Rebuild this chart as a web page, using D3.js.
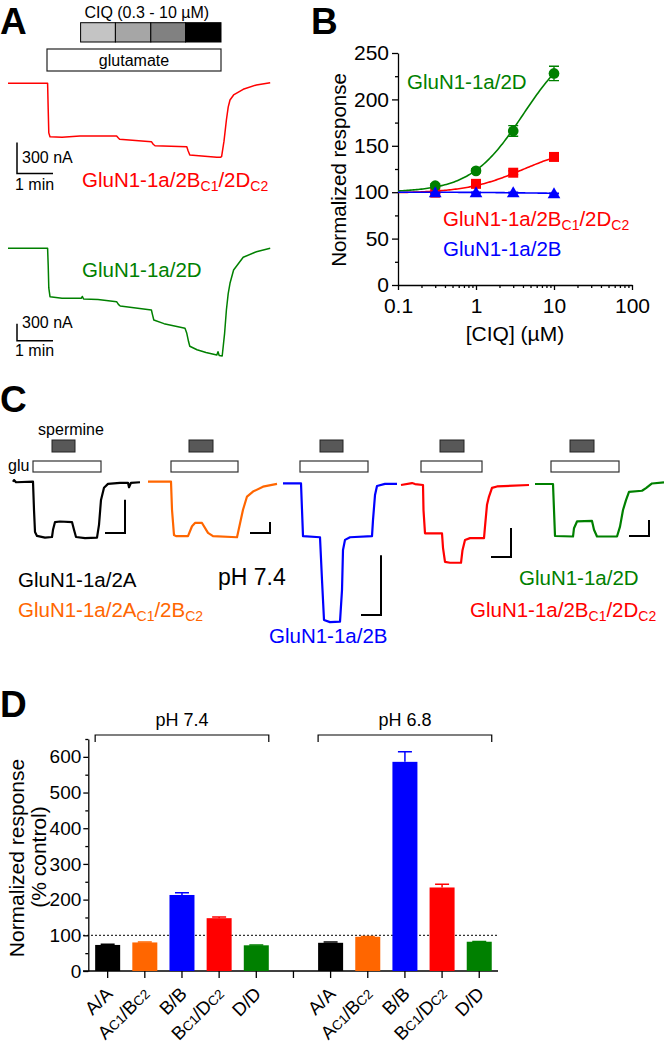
<!DOCTYPE html>
<html>
<head>
<meta charset="utf-8">
<script src="https://cdn.jsdelivr.net/npm/d3@7"></script>
<style>
  body { margin: 0; background: #fff; }
  svg { display: block; font-family: "Liberation Sans", Arial, sans-serif; }
</style>
</head>
<body>
<div id="chart"></div>
<script>
// multi panel figure: CIQ potentiation (A, B), spermine traces (C), spermine summary (D)

///////////////
//   data    //
///////////////

// panel A - two-electrode voltage clamp traces, time in s, current in nA
const ciqEdges = [121, 179, 238, 296, 355];          // 0.3, 1, 3, 10 uM steps
const gluA = [65, 355];
const redT = [0, 66, 67, 68, 70, 90, 120, 181, 184, 186, 239, 242, 245, 298, 300, 303, 348, 354, 356, 360, 364, 367, 370, 376, 392, 414, 437];
const redI = [0, 0, -250, -480, -517, -523, -510, -510, -530, -542, -565, -590, -604, -614, -650, -694, -716, -716, -710, -560, -355, -230, -162, -113, -58, -16, 6];
const greenT = [0, 66, 67, 68, 70, 90, 122, 124, 126, 150, 181, 184, 187, 239, 241, 243, 260, 295, 298, 301, 303, 315, 330, 348, 350, 352, 357, 361, 364, 367, 370, 376, 392, 414, 437];
const greenI = [0, 0, -300, -700, -854, -880, -882, -850, -895, -905, -942, -990, -1018, -1089, -1180, -1265, -1330, -1412, -1500, -1650, -1729, -1790, -1840, -1883, -1824, -1890, -1900, -1500, -1089, -800, -618, -383, -159, -60, 0];

// panel B - concentration response
const ciqConc = [0.3, 1, 3, 10];
const resp2D = [107, 123, 166, 228];
const err2D = [2, 2, 5.7, 7.7];
const resp2BD = [99.5, 109, 121, 138];
const err2BD = [1, 1.5, 2, 2.5];
const resp2B = [99.5, 99.5, 99.5, 98.6];
const err2B = [0.5, 0.5, 0.5, 0.5];
// Hill fits: [bottom, span, EC50, nH]
const fit2D = [100, 167, 4, 1.3];
const fit2BD = [99, 51, 4, 1.2];
const fit2B = [100, -1.5, 4, 1.2];

// panel C - spermine traces, time in s, current as fraction of glutamate response
const cT = [
  [0, 1, 3, 20, 21, 22, 24, 32, 39, 40, 42, 47, 59, 61, 63, 72, 84, 86, 88, 91, 95, 107, 115, 116, 118, 127],
  [0, 23, 24, 26, 28, 40, 44, 47, 54, 60, 65, 89, 90, 95, 99, 105, 115, 129],
  [0, 18, 20, 37, 39, 41, 47, 57, 59, 60, 62, 67, 89, 90, 92, 94, 102, 114],
  [0, 11, 14, 22, 22.5, 24, 41, 42, 44, 49, 60, 61.5, 64, 69, 83, 84, 86, 88, 91, 96, 128],
  [0, 18, 19, 20, 38, 39, 42, 57, 59, 62, 82, 85, 88, 91, 94, 107, 111, 117, 129]
];
const cI = [
  [0, 0.03, -0.01, 0, -0.51, -0.91, -0.98, -1.01, -1.0, -0.87, -0.73, -0.72, -0.73, -0.87, -1.0, -1.02, -1.01, -0.78, -0.33, -0.11, -0.04, -0.02, -0.02, -0.1, -0.02, -0.01],
  [0, 0, -0.51, -0.97, -0.99, -0.99, -0.81, -0.75, -0.75, -0.93, -0.99, -1.01, -0.93, -0.51, -0.27, -0.18, -0.09, -0.04],
  [0, 0, -0.99, -1.01, -1.81, -2.56, -2.6, -2.59, -2.0, -1.25, -1.06, -1.01, -0.99, -0.69, -0.22, -0.05, -0.01, -0.01],
  [0, 0.04, 0.02, 0, -0.52, -1.0, -1.0, -1.3, -1.59, -1.61, -1.61, -1.35, -1.14, -1.1, -1.1, -0.86, -0.41, -0.24, -0.06, -0.03, 0],
  [0, 0, -0.5, -1.0, -1.01, -0.85, -0.72, -0.71, -0.88, -1.01, -1.01, -0.82, -0.5, -0.31, -0.15, -0.13, -0.08, 0.01, 0.03]
];
const cGlu = [[20, 88], [23, 90], [17, 85], [20, 81], [16, 84]];
const cSpermine = [[39, 62], [41, 65], [37, 60], [39, 63], [35, 59]];
const cBarTime = 20;                              // s
const cBarAmp = [0.6, 0.2, 1.12, 0.6, 0.31];      // fraction of glutamate response

// panel D - spermine potentiation (% control)
const dCats = ["A/A", "A_{C1}/B_{C2}", "B/B", "B_{C1}/D_{C2}", "D/D"];
const dGroups = ["pH 7.4", "pH 6.8"];
const resp74 = [73, 80, 213, 148, 72];
const err74 = [2, 1, 6, 3, 1];
const resp68 = [79, 96, 586, 234, 82];
const err68 = [2, 1, 28, 9, 1];

///////////////
//  layout   //
///////////////

const width = 664, height = 1050;
const colBlack = "#000", colOrange = "#ff6600", colBlue = "#0000ff", colRed = "#ff0000", colGreen = "#008000";
const cColors = [colBlack, colOrange, colBlue, colRed, colGreen];

const svg = d3.select("#chart").append("svg")
  .attr("width", width).attr("height", height);
svg.append("rect").attr("width", width).attr("height", height).attr("fill", "#fff");

// text with _{sub} parts; shift = baseline drop of subscript
function richText(sel, str, subSize, shift) {
  var back = 0;
  str.split(/(_\{[^}]*\})/).filter(function(s) { return s.length; }).forEach(function(p) {
    if (p.indexOf("_{") === 0) {
      sel.append("tspan").attr("font-size", subSize).attr("dy", shift).text(p.slice(2, -1));
      back = -shift;
    } else {
      sel.append("tspan").attr("dy", back).text(p);
      back = 0;
    }
  });
  return sel;
}

function panelLabel(txt, x, y) {
  svg.append("text").attr("x", x).attr("y", y)
    .attr("font-size", 37).attr("font-weight", "bold").text(txt);
}

const line = d3.line();

///////////////
//  panel A  //
///////////////

panelLabel("A", 0, 34);

const xA = d3.scaleLinear().domain([0, 437]).range([8, 270.2]);
const yRed = d3.scaleLinear().domain([0, -300]).range([83.3, 114.3]);
const yGreen = d3.scaleLinear().domain([0, -300]).range([248.3, 265.3]);

svg.append("text").attr("x", xA((ciqEdges[0] + ciqEdges[4]) / 2) - 4).attr("y", 17.5)
  .attr("font-size", 16).attr("text-anchor", "middle").text("CIQ (0.3 - 10 \u00b5M)");

const ciqShades = ["#c4c4c4", "#a6a6a6", "#818181", "#000000"];
for (let i = 0; i < 4; i++) {
  svg.append("rect")
    .attr("x", xA(ciqEdges[i])).attr("y", 22.7)
    .attr("width", xA(ciqEdges[i + 1]) - xA(ciqEdges[i])).attr("height", 19.3)
    .attr("fill", ciqShades[i]).attr("stroke", "#000").attr("stroke-width", 1);
}
svg.append("rect")
  .attr("x", xA(gluA[0])).attr("y", 49)
  .attr("width", xA(gluA[1]) - xA(gluA[0])).attr("height", 22)
  .attr("fill", "#fff").attr("stroke", "#222").attr("stroke-width", 1.2);
svg.append("text").attr("x", (xA(gluA[0]) + xA(gluA[1])) / 2).attr("y", 65.5)
  .attr("font-size", 16).attr("text-anchor", "middle").text("glutamate");

function drawTraceA(T, I, yS, color) {
  svg.append("path")
    .attr("d", line(T.map(function(t, i) { return [xA(t), yS(I[i])]; })))
    .attr("fill", "none").attr("stroke", color).attr("stroke-width", 1.5)
    .attr("stroke-linejoin", "round");
}
drawTraceA(redT, redI, yRed, colRed);
drawTraceA(greenT, greenI, yGreen, colGreen);

function scaleBarA(yS, cornerY, lab1y, lab2y) {
  var x0 = 17;
  var dy = yS(-300) - yS(0);
  var dx = xA(60) - xA(0);
  svg.append("path")
    .attr("d", "M" + x0 + "," + (cornerY - dy) + "V" + cornerY + "H" + (x0 + dx))
    .attr("fill", "none").attr("stroke", "#000").attr("stroke-width", 1.5);
  svg.append("text").attr("x", 22).attr("y", lab1y).attr("font-size", 16).text("300 nA");
  svg.append("text").attr("x", 15).attr("y", lab2y).attr("font-size", 16).text("1 min");
}
scaleBarA(yRed, 173.5, 163, 190);
scaleBarA(yGreen, 340.7, 328, 356);

richText(svg.append("text").attr("x", 82).attr("y", 187).attr("font-size", 20.5).attr("fill", colRed),
  "GluN1-1a/2B_{C1}/2D_{C2}", 14, 4);
richText(svg.append("text").attr("x", 82).attr("y", 277).attr("font-size", 20.5).attr("fill", colGreen),
  "GluN1-1a/2D", 14, 4);

///////////////
//  panel B  //
///////////////

panelLabel("B", 311, 34);

const xB = d3.scaleLog().domain([0.1, 100]).range([398, 632]);
const yB = d3.scaleLinear().domain([0, 250]).range([285, 53]);

const gB = svg.append("g");
gB.append("g").attr("transform", "translate(398,0)")
  .call(d3.axisLeft(yB).tickValues([0, 50, 100, 150, 200, 250]).tickSize(6).tickSizeOuter(0).tickPadding(3));
gB.append("g").attr("transform", "translate(398,0)")
  .call(d3.axisLeft(yB).tickValues([25, 75, 125, 175, 225]).tickSize(3).tickFormat(""))
  .select(".domain").remove();
const minorB = [];
[0.1, 1, 10].forEach(function(d) { for (let k = 2; k <= 9; k++) minorB.push(d * k); });
gB.append("g").attr("transform", "translate(0,285)")
  .call(d3.axisBottom(xB).tickValues([0.1, 1, 10, 100]).tickFormat(d3.format("~g")).tickSize(5).tickSizeOuter(0).tickPadding(8));
gB.append("g").attr("transform", "translate(0,285)")
  .call(d3.axisBottom(xB).tickValues(minorB).tickSize(3).tickFormat(""))
  .select(".domain").remove();
gB.selectAll(".tick text").attr("font-size", 21).attr("font-family", "Liberation Sans, Arial, sans-serif").attr("fill", "#000");
gB.selectAll("path.domain, .tick line").attr("stroke", "#000").attr("stroke-width", 1.3);

svg.append("text")
  .attr("transform", "translate(346," + ((53 + 285) / 2 + 1) + ") rotate(-90)")
  .attr("font-size", 20.5).attr("text-anchor", "middle").text("Normalized response");
svg.append("text").attr("x", 515).attr("y", 341)
  .attr("font-size", 21).attr("text-anchor", "middle").text("[CIQ] (\u00b5M)");

function hill(p, c) { return p[0] + p[1] * Math.pow(c, p[3]) / (Math.pow(c, p[3]) + Math.pow(p[2], p[3])); }
const fitX = d3.range(0, 101).map(function(i) { return Math.pow(10, -1 + 2 * i / 100); });

const seriesB = [
  { fit: fit2BD, y: resp2BD, e: err2BD, color: colRed, shape: "square" },
  { fit: fit2D, y: resp2D, e: err2D, color: colGreen, shape: "circle" },
  { fit: fit2B, y: resp2B, e: err2B, color: colBlue, shape: "triangle" }
];
seriesB.forEach(function(s) {
  svg.append("path")
    .attr("d", line(fitX.map(function(c) { return [xB(c), yB(hill(s.fit, c))]; })))
    .attr("fill", "none").attr("stroke", s.color).attr("stroke-width", 1.6);
});
seriesB.forEach(function(s) {
  const g = svg.append("g");
  ciqConc.forEach(function(c, i) {
    var x = xB(c);
    var y1 = yB(s.y[i] + s.e[i]), y2 = yB(s.y[i] - s.e[i]);
    g.append("path").attr("d", "M" + x + "," + y1 + "V" + y2 + "M" + (x - 5) + "," + y1 + "H" + (x + 5) + "M" + (x - 5) + "," + y2 + "H" + (x + 5))
      .attr("stroke", s.color).attr("stroke-width", 1.3).attr("fill", "none");
  });
  const sym = s.shape === "square" ? d3.symbolSquare : (s.shape === "circle" ? d3.symbolCircle : d3.symbolTriangle);
  const size = s.shape === "square" ? 100 : (s.shape === "circle" ? 90 : 70);
  g.selectAll("path.pt").data(ciqConc).enter().append("path").attr("class", "pt")
    .attr("d", d3.symbol().type(sym).size(size))
    .attr("transform", function(c, i) { return "translate(" + xB(c) + "," + (yB(s.y[i]) + (s.shape === "triangle" ? 1 : 0)) + ")"; })
    .attr("fill", s.color);
});

richText(svg.append("text").attr("x", 407).attr("y", 89).attr("font-size", 20.5).attr("fill", colGreen),
  "GluN1-1a/2D", 14, 4);
richText(svg.append("text").attr("x", 443).attr("y", 226).attr("font-size", 20.5).attr("fill", colRed),
  "GluN1-1a/2B_{C1}/2D_{C2}", 14, 4);
richText(svg.append("text").attr("x", 443).attr("y", 256).attr("font-size", 20.5).attr("fill", colBlue),
  "GluN1-1a/2B", 14, 4);

///////////////
//  panel C  //
///////////////

panelLabel("C", 0, 412);

const cX0 = [13, 148, 283, 401, 535];
const cBase = [481.7, 481.7, 483.3, 485, 484];
const cDepth = [55.3, 55, 53.4, 48.3, 52];
const cBarCorner = [[125, 533], [270, 533], [381, 615], [511, 557], [649, 536]];

svg.append("text").attr("x", 71).attr("y", 435).attr("font-size", 16).attr("text-anchor", "middle").text("spermine");
svg.append("text").attr("x", 8).attr("y", 471).attr("font-size", 16).text("glu");

cT.forEach(function(T, k) {
  const xS = d3.scaleLinear().domain([0, 1]).range([cX0[k], cX0[k] + 1]);
  const yS = d3.scaleLinear().domain([0, -1]).range([cBase[k], cBase[k] + cDepth[k]]);
  svg.append("rect")
    .attr("x", xS(cSpermine[k][0])).attr("y", 440)
    .attr("width", xS(cSpermine[k][1]) - xS(cSpermine[k][0])).attr("height", 12)
    .attr("fill", "#585858").attr("stroke", "#222").attr("stroke-width", 1);
  svg.append("rect")
    .attr("x", xS(cGlu[k][0])).attr("y", 461)
    .attr("width", xS(cGlu[k][1]) - xS(cGlu[k][0])).attr("height", 11)
    .attr("fill", "#fff").attr("stroke", "#333").attr("stroke-width", 1.2);
  svg.append("path")
    .attr("d", line(T.map(function(t, i) { return [xS(t), yS(cI[k][i])]; })))
    .attr("fill", "none").attr("stroke", cColors[k]).attr("stroke-width", 2.2)
    .attr("stroke-linejoin", "round");
  const bx = cBarCorner[k][0], by = cBarCorner[k][1];
  const bw = xS(cBarTime) - xS(0), bh = yS(-cBarAmp[k]) - yS(0);
  svg.append("path")
    .attr("d", "M" + (bx - bw) + "," + by + "H" + bx + "V" + (by - bh))
    .attr("fill", "none").attr("stroke", "#000").attr("stroke-width", 2);
});

const cLabels = [
  { t: "GluN1-1a/2A", x: 18, y: 587, c: colBlack },
  { t: "GluN1-1a/2A_{C1}/2B_{C2}", x: 18, y: 617, c: colOrange },
  { t: "GluN1-1a/2B", x: 269, y: 643, c: colBlue },
  { t: "GluN1-1a/2D", x: 519, y: 585, c: colGreen },
  { t: "GluN1-1a/2B_{C1}/2D_{C2}", x: 470, y: 617, c: colRed }
];
cLabels.forEach(function(l) {
  richText(svg.append("text").attr("x", l.x).attr("y", l.y).attr("font-size", 20.5).attr("fill", l.c), l.t, 14, 4);
});
svg.append("text").attr("x", 218).attr("y", 585).attr("font-size", 23).text("pH 7.4");

///////////////
//  panel D  //
///////////////

panelLabel("D", 0, 717);

const dKeys = dCats.map(function(c) { return "7.4|" + c; }).concat(["gap"], dCats.map(function(c) { return "6.8|" + c; }));
const dVals = resp74.concat([null], resp68);
const dErrs = err74.concat([null], err68);
const dCols = [colBlack, colOrange, colBlue, colRed, colGreen];

const xD = d3.scaleBand().domain(dKeys).range([89.1, 497.8]).paddingInner(0.327).paddingOuter(0.163);
const yD = d3.scaleLinear().domain([0, 650]).range([971, 739]);

const gD = svg.append("g");
gD.append("g").attr("transform", "translate(88.3,0)")
  .call(d3.axisLeft(yD).tickValues([0, 100, 200, 300, 400, 500, 600]).tickSize(5).tickSizeOuter(0).tickPadding(2));
gD.append("g").attr("transform", "translate(88.3,0)")
  .call(d3.axisLeft(yD).tickValues([50, 150, 250, 350, 450, 550, 650]).tickSize(3).tickFormat(""))
  .select(".domain").remove();
gD.append("g").attr("transform", "translate(0,971)")
  .call(d3.axisBottom(xD).tickSize(7).tickSizeOuter(0).tickFormat(""))
  .select(".domain").attr("d", "M83,0H498");
gD.selectAll(".tick text").attr("font-size", 19).attr("font-family", "Liberation Sans, Arial, sans-serif").attr("fill", "#000");
gD.selectAll("path.domain, .tick line").attr("stroke", "#000").attr("stroke-width", 1.3);

// reference line at 100 %
svg.append("line").attr("x1", 83).attr("x2", 498).attr("y1", yD(100)).attr("y2", yD(100))
  .attr("stroke", "#000").attr("stroke-width", 1).attr("stroke-dasharray", "2,2");

dKeys.forEach(function(k, i) {
  if (dVals[i] === null) return;
  const col = dCols[i < 5 ? i : i - 6];
  const x = xD(k), w = xD.bandwidth(), cx = x + w / 2;
  svg.append("rect").attr("x", x).attr("y", yD(dVals[i]))
    .attr("width", w).attr("height", yD(0) - yD(dVals[i])).attr("fill", col);
  const yt = yD(dVals[i] + dErrs[i]);
  svg.append("path").attr("d", "M" + cx + "," + yD(dVals[i]) + "V" + yt + "M" + (cx - 7) + "," + yt + "H" + (cx + 7))
    .attr("stroke", col).attr("stroke-width", 1.5).attr("fill", "none");
});

dKeys.forEach(function(k, i) {
  if (dVals[i] === null) return;
  const cx = xD(k) + xD.bandwidth() / 2;
  const lab = k.split("|")[1];
  richText(svg.append("text")
    .attr("transform", "translate(" + (cx + 6) + ",995) rotate(-45)")
    .attr("text-anchor", "end").attr("font-size", 18.5), lab, 13.5, 0);
});

svg.append("text")
  .attr("transform", "translate(24,858) rotate(-90)")
  .attr("font-size", 21).attr("text-anchor", "middle").text("Normalized response");
svg.append("text")
  .attr("transform", "translate(46,857) rotate(-90)")
  .attr("font-size", 21).attr("text-anchor", "middle").text("(% control)");

// group brackets
dGroups.forEach(function(g, j) {
  const keys = dKeys.slice(j * 6, j * 6 + 5);
  const x1 = xD(keys[0]), x2 = xD(keys[4]) + xD.bandwidth();
  svg.append("path").attr("d", "M" + x1 + ",742V735H" + x2 + "V742")
    .attr("fill", "none").attr("stroke", "#000").attr("stroke-width", 1.2);
  svg.append("text").attr("x", (x1 + x2) / 2).attr("y", 726)
    .attr("font-size", 18).attr("text-anchor", "middle").text(g);
});
</script>
</body>
</html>
